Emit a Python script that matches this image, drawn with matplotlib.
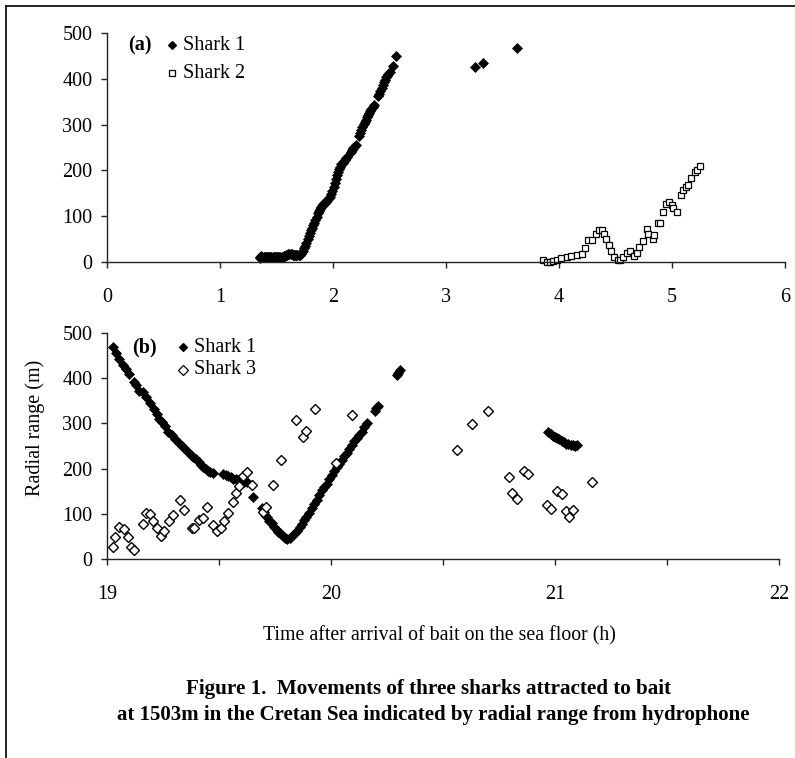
import matplotlib
matplotlib.use("Agg")
import matplotlib.pyplot as plt
from matplotlib.lines import Line2D

# ---------------- data ----------------
# Panel (a): time after arrival of bait (h) vs radial range (m)
a_shark1_t = [1.350, 1.355, 1.365, 1.375, 1.385, 1.395, 1.405, 1.415, 1.425, 1.435, 1.445,
              1.455, 1.465, 1.475, 1.485, 1.495, 1.505, 1.515, 1.525, 1.535, 1.545, 1.555,
              1.565, 1.575, 1.585, 1.595, 1.605, 1.615, 1.625, 1.635, 1.645, 1.655, 1.665,
              1.675, 1.685, 1.695, 1.705, 1.715, 1.725, 1.735, 1.745, 1.755, 1.765, 1.775,
              1.785, 1.795, 1.805, 1.815, 1.825, 1.835, 1.845, 1.855, 1.865, 1.875, 1.885,
              1.895, 1.905, 1.915, 1.925, 1.935, 1.945, 1.955, 1.965, 1.975, 1.985, 1.995,
              2.005, 2.015, 2.025, 2.035, 2.045, 2.055, 2.065, 2.075, 2.085, 2.095, 2.105,
              2.115, 2.125, 2.160, 2.170, 2.180, 2.190, 2.200, 2.230, 2.240, 2.250, 2.260,
              2.270, 2.280, 2.290, 2.300, 2.310, 2.320, 2.330, 2.340, 2.350, 2.360, 2.400,
              2.410, 2.420, 2.430, 2.440, 2.450, 2.460, 2.470, 2.480, 2.490, 2.500, 2.530,
              2.560, 3.260, 3.330, 3.630]
a_shark1_r = [8, 12, 13, 12, 12, 11, 11, 12, 11, 12, 11,
              11, 10, 11, 10, 11, 10, 11, 10, 11, 11, 12,
              13, 14, 15, 16, 17, 17, 18, 17, 16, 16, 16,
              15, 15, 16, 15, 18, 21, 25, 30, 35, 42, 50,
              57, 63, 70, 75, 80, 86, 92, 99, 106, 112, 116,
              120, 123, 126, 129, 132, 135, 137, 140, 143, 148, 155,
              163, 172, 181, 190, 196, 202, 208, 213, 217, 220, 223,
              226, 229, 240, 244, 248, 252, 256, 276, 282, 288, 295,
              301, 306, 311, 316, 320, 325, 330, 334, 338, 342, 362,
              367, 373, 380, 386, 392, 398, 403, 407, 411, 415, 427,
              450, 426, 434, 467]

a_shark2_t = [3.86, 3.89, 3.92, 3.95, 3.98, 4.02, 4.07, 4.11, 4.16, 4.20, 4.23, 4.26, 4.29,
              4.33, 4.35, 4.38, 4.40, 4.42, 4.44, 4.46, 4.49, 4.52, 4.54, 4.57, 4.60, 4.63,
              4.66, 4.69, 4.71, 4.74, 4.78, 4.79, 4.83, 4.84, 4.88, 4.89, 4.92, 4.95, 4.97,
              5.00, 5.01, 5.04, 5.08, 5.10, 5.12, 5.14, 5.17, 5.20, 5.22, 5.25]
a_shark2_r = [4, 1, 1, 2, 4, 8, 12, 13, 15, 18, 30, 48, 48,
              62, 69, 69, 62, 50, 38, 24, 12, 5, 4, 10, 19, 25,
              13, 19, 33, 46, 73, 62, 50, 59, 86, 86, 110, 127, 130,
              125, 118, 110, 146, 157, 163, 168, 183, 197, 200, 210]

# Panel (b)
b_shark1_t = [19.025, 19.040, 19.055, 19.073, 19.085, 19.100, 19.120, 19.130, 19.144, 19.160,
              19.175, 19.190, 19.210, 19.222, 19.234, 19.245, 19.260, 19.274, 19.290, 19.305,
              19.320, 19.333, 19.345, 19.363, 19.375, 19.384, 19.397, 19.410, 19.420, 19.430,
              19.440, 19.450, 19.462, 19.474, 19.520, 19.530, 19.540, 19.552, 19.564, 19.575,
              19.585, 19.600, 19.610, 19.624, 19.653, 19.690, 19.700, 19.707, 19.713, 19.724,
              19.735, 19.746, 19.757, 19.765, 19.772, 19.780, 19.788, 19.795, 19.805, 19.817,
              19.828, 19.840, 19.850, 19.860, 19.870, 19.880, 19.890, 19.900, 19.914, 19.925,
              19.936, 19.948, 19.960, 19.970, 19.980, 19.992, 20.004, 20.015, 20.025, 20.036,
              20.048, 20.060, 20.070, 20.080, 20.092, 20.104, 20.115, 20.126, 20.137, 20.148,
              20.160, 20.196, 20.203, 20.210, 20.293, 20.300, 20.310,
              20.970, 20.980, 20.990, 21.000, 21.010, 21.020, 21.030, 21.040, 21.050, 21.060,
              21.070, 21.080, 21.090, 21.100]
b_shark1_r = [468, 455, 442, 429, 420, 409, 392, 385, 372, 370,
              358, 346, 331, 320, 309, 302, 294, 282, 274, 265,
              257, 251, 246, 237, 231, 226, 221, 215, 209, 204,
              199, 195, 193, 191, 188, 186, 184, 181, 178, 176,
              175, 173, 171, 170, 138, 112, 105, 98, 92, 85,
              79, 71, 64, 60, 57, 52, 48, 46, 45, 46,
              50, 57, 63, 71, 78, 86, 94, 102, 112, 121,
              130, 141, 153, 160, 167, 177, 186, 195, 204, 211,
              219, 227, 234, 243, 252, 260, 267, 275, 282, 291,
              300, 328, 333, 338, 407, 412, 418,
              280, 276, 273, 270, 268, 265, 262, 258, 254, 255,
              252, 253, 251, 252]

b_shark3_t = [19.025, 19.036, 19.055, 19.076, 19.095, 19.106, 19.122, 19.16, 19.174, 19.19,
              19.207, 19.225, 19.24, 19.254, 19.277, 19.293, 19.326, 19.344, 19.378, 19.39,
              19.412, 19.43, 19.448, 19.475, 19.492, 19.507, 19.522, 19.54, 19.561, 19.576,
              19.59, 19.606, 19.623, 19.646, 19.695, 19.71, 19.742, 19.775, 19.844, 19.874,
              19.89, 19.93, 20.022, 20.092, 20.564, 20.63, 20.70, 20.795, 20.81, 20.832,
              20.86, 20.88, 20.963, 20.982, 21.01, 21.03, 21.049, 21.062, 21.08, 21.163]
b_shark3_r = [27, 49, 70, 66, 48, 27, 21, 77, 101, 99,
              83, 68, 51, 63, 85, 97, 130, 108, 68, 69,
              86, 90, 116, 75, 63, 68, 85, 101, 127, 147,
              161, 184, 193, 164, 105, 114, 164, 218, 307, 271,
              283, 331, 213, 319, 241, 298, 328, 181, 147, 132,
              195, 188, 119, 110, 151, 144, 106, 92, 108, 171]

a_xticks = [0, 1, 2, 3, 4, 5, 6]
b_xticks = [19, 20, 21, 22]
b_xminor = [19.5, 20.5, 21.5]
yticks = [0, 100, 200, 300, 400, 500]

# ---------------- figure ----------------
W, H = 795, 758
fig = plt.figure(figsize=(W / 100, H / 100), dpi=100)
plt.rcParams['font.family'] = ['Liberation Serif', 'DejaVu Serif']

def fx(px):
    return px / W

def fy(py):
    return 1 - py / H

ax_a = fig.add_axes([fx(107), fy(262), fx(785) - fx(107), fy(33) - fy(262)])
ax_b = fig.add_axes([fx(107), fy(559), fx(779) - fx(107), fy(333) - fy(559)])

FS = 14.5
for ax in (ax_a, ax_b):
    for s in ('top', 'right'):
        ax.spines[s].set_visible(False)
    for s in ('left', 'bottom'):
        ax.spines[s].set_color('#222222')
        ax.spines[s].set_linewidth(1.0)
    ax.set_ylim(0, 500)
    ax.set_yticks(yticks)
    ax.tick_params(axis='both', which='both', direction='out', length=4.5, width=1.0,
                   color='#222222', labelsize=FS)
    ax.tick_params(axis='y', pad=6)
    ax.tick_params(axis='x', pad=14)
    ax.patch.set_alpha(0)

MS_F = 4.6
# panel (a)
ax_a.plot(a_shark1_t, a_shark1_r, linestyle='none', marker='D', ms=MS_F,
          color='black', mec='black', mew=0.5, clip_on=False)
ax_a.plot(a_shark2_t, a_shark2_r, linestyle='none', marker='s', ms=4.4,
          mfc='white', mec='black', mew=0.9, clip_on=False)
ax_a.set_xlim(0, 6)
ax_a.set_xticks(a_xticks)

# panel (b)
ax_b.plot(b_shark1_t, b_shark1_r, linestyle='none', marker='D', ms=MS_F,
          color='black', mec='black', mew=0.5, clip_on=False)
ax_b.plot(b_shark3_t, b_shark3_r, linestyle='none', marker='D', ms=4.6,
          mfc='white', mec='black', mew=1.0, clip_on=False)
ax_b.set_xlim(19, 22)
ax_b.set_xticks(b_xticks)
ax_b.set_xticks(b_xminor, minor=True)

# legends (manual, in figure pixel coordinates)
def legend_entry(px, py, marker, filled, text, ms):
    fig.add_artist(Line2D([fx(px)], [fy(py)], transform=fig.transFigure, marker=marker,
                          ms=ms, mfc='black' if filled else 'white', mec='black',
                          mew=0.9, linestyle='none'))
    fig.text(fx(px + 11), fy(py), text, fontsize=FS, va='center', ha='left')

fig.text(fx(128), fy(45), '(a)', fontsize=FS, fontweight='bold', va='center', ha='left')
legend_entry(172, 45, 'D', True, 'Shark 1', 4.3)
legend_entry(172, 73, 's', False, 'Shark 2', 4.3)

fig.text(fx(132), fy(347), '(b)', fontsize=FS, fontweight='bold', va='center', ha='left')
legend_entry(183, 347, 'D', True, 'Shark 1', 4.3)
legend_entry(183, 370, 'D', False, 'Shark 3', 4.6)

# axis labels
fig.text(fx(35), fy(428), 'Radial range (m)', fontsize=FS, rotation=90,
         ha='center', va='center')
fig.text(fx(439), fy(640), 'Time after arrival of bait on the sea floor (h)',
         fontsize=14.3, ha='center', va='baseline')

# caption
fig.text(fx(428), fy(694), 'Figure 1.  Movements of three sharks attracted to bait',
         fontsize=15.2, fontweight='bold', ha='center', va='baseline')
fig.text(fx(433), fy(720), 'at 1503m in the Cretan Sea indicated by radial range from hydrophone',
         fontsize=15, fontweight='bold', ha='center', va='baseline')

# figure border (left and top)
fig.add_artist(Line2D([fx(6), fx(6)], [0, fy(6)], transform=fig.transFigure,
                      color='black', lw=1.2))
fig.add_artist(Line2D([fx(6), 1], [fy(6), fy(6)], transform=fig.transFigure,
                      color='black', lw=1.2))

fig.savefig('out.png', dpi=100)
